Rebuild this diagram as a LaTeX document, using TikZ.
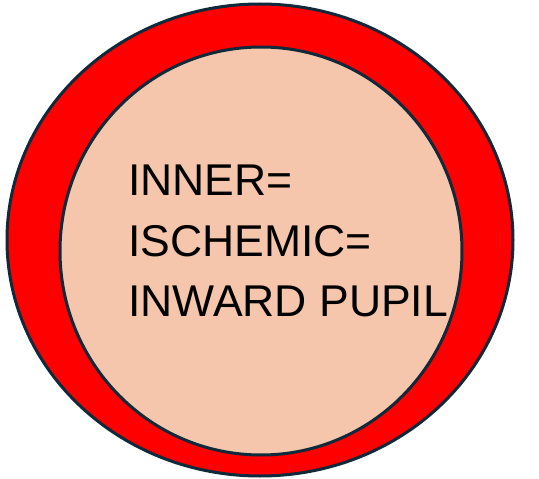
\documentclass[tikz,border=0pt]{standalone}
\usepackage{fontspec}
\setmainfont{Liberation Sans}
\definecolor{ringred}{HTML}{FF0000}
\definecolor{peach}{HTML}{F5C6AB}
\definecolor{outline}{HTML}{0F2A3A}
\begin{document}
\begin{tikzpicture}[x=1pt,y=-1pt,
  ring/.style={draw=outline,line width=3pt},
  lbl/.style={anchor=base west,inner sep=0pt,font=\fontsize{44.5}{50}\selectfont}]
\useasboundingbox (0,0) rectangle (539,479);
\fill[white] (0,0) rectangle (539,479);
\draw[ring,fill=ringred] (260,240) ellipse [x radius=253,y radius=236];
\draw[ring,fill=peach] (261,251) ellipse [x radius=201,y radius=204];
\node[lbl] (l1) at (128,195) {INNER=};
\node[lbl] (l2) at (128,256) {ISCHEMIC=};
\node[lbl] (l3) at (128,316) {INWARD PUPIL};
\end{tikzpicture}
\end{document}
